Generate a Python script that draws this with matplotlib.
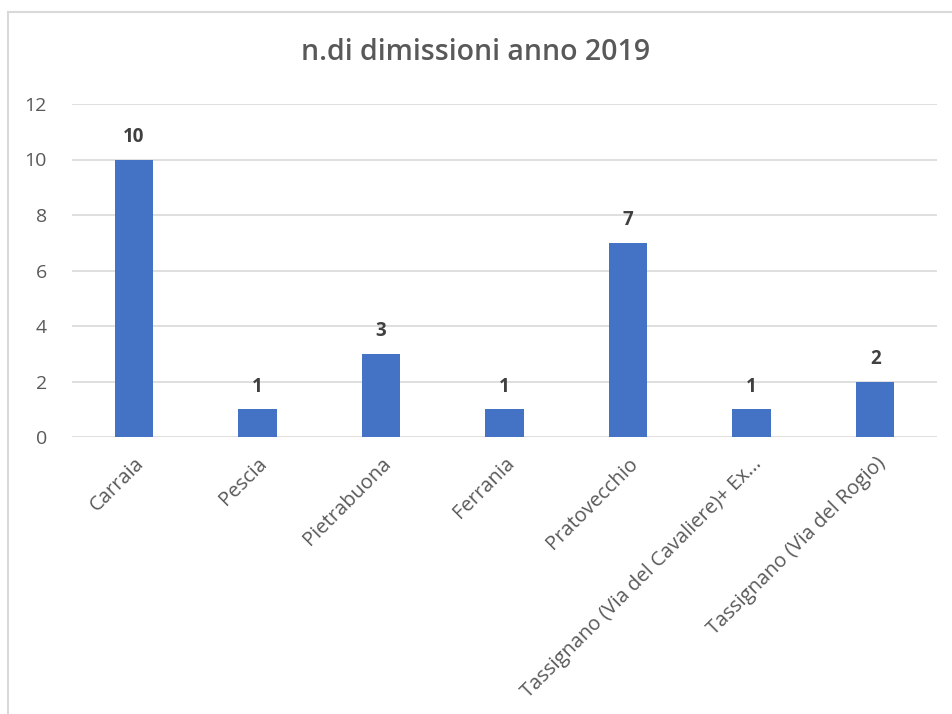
import matplotlib.pyplot as plt
from matplotlib.lines import Line2D

# --- data ---
categories = ["Carraia", "Pescia", "Pietrabuona", "Ferrania", "Pratovecchio",
              "Tassignano (Via del Cavaliere)+ Ex...", "Tassignano (Via del Rogio)"]
values = [10, 1, 3, 1, 7, 1, 2]
yticks = [0, 2, 4, 6, 8, 10, 12]

plt.rcParams['font.family'] = ['Open Sans', 'DejaVu Sans']

fig = plt.figure(figsize=(9.52, 7.14), dpi=100)
ax = fig.add_axes([72/952, 1 - 437/714, 865/952, 333/714])

x = range(len(categories))
bars = ax.bar(x, values, width=0.31, color="#4472C4", zorder=3)

# value labels above bars
for b, v in zip(bars, values):
    ax.text(b.get_x() + b.get_width()/2, v + 0.45, str(v), ha="center", va="bottom",
            fontsize=13.5, fontweight="bold", color="#404040")

ax.set_xlim(-0.5, len(categories) - 0.5)
ax.set_ylim(0, 12)
ax.set_yticks(yticks)
ax.yaxis.grid(True, color="#d9d9d9", linewidth=1.2, zorder=0)
for s in ax.spines.values():
    s.set_visible(False)
ax.tick_params(axis="y", length=0, colors="#595959", labelsize=14, pad=18)
ax.tick_params(axis="x", length=0, colors="#595959", labelsize=14.5, pad=12)
ax.set_xticks(list(x))
ax.set_xticklabels(categories, rotation=45, ha="right", rotation_mode="anchor")

fig.text(0.5, 1 - 52/714, "n.di dimissioni anno 2019", ha="center", va="center",
         fontsize=20.5, fontweight="semibold", color="#595959")

# chart frame (left and top edges visible)
fig.add_artist(Line2D([8/952, 8/952], [0, 1 - 12/714], color="#d9d9d9", linewidth=1.5))
fig.add_artist(Line2D([8/952, 1], [1 - 12/714, 1 - 12/714], color="#d9d9d9", linewidth=1.5))

fig.savefig("out.png", dpi=100)
